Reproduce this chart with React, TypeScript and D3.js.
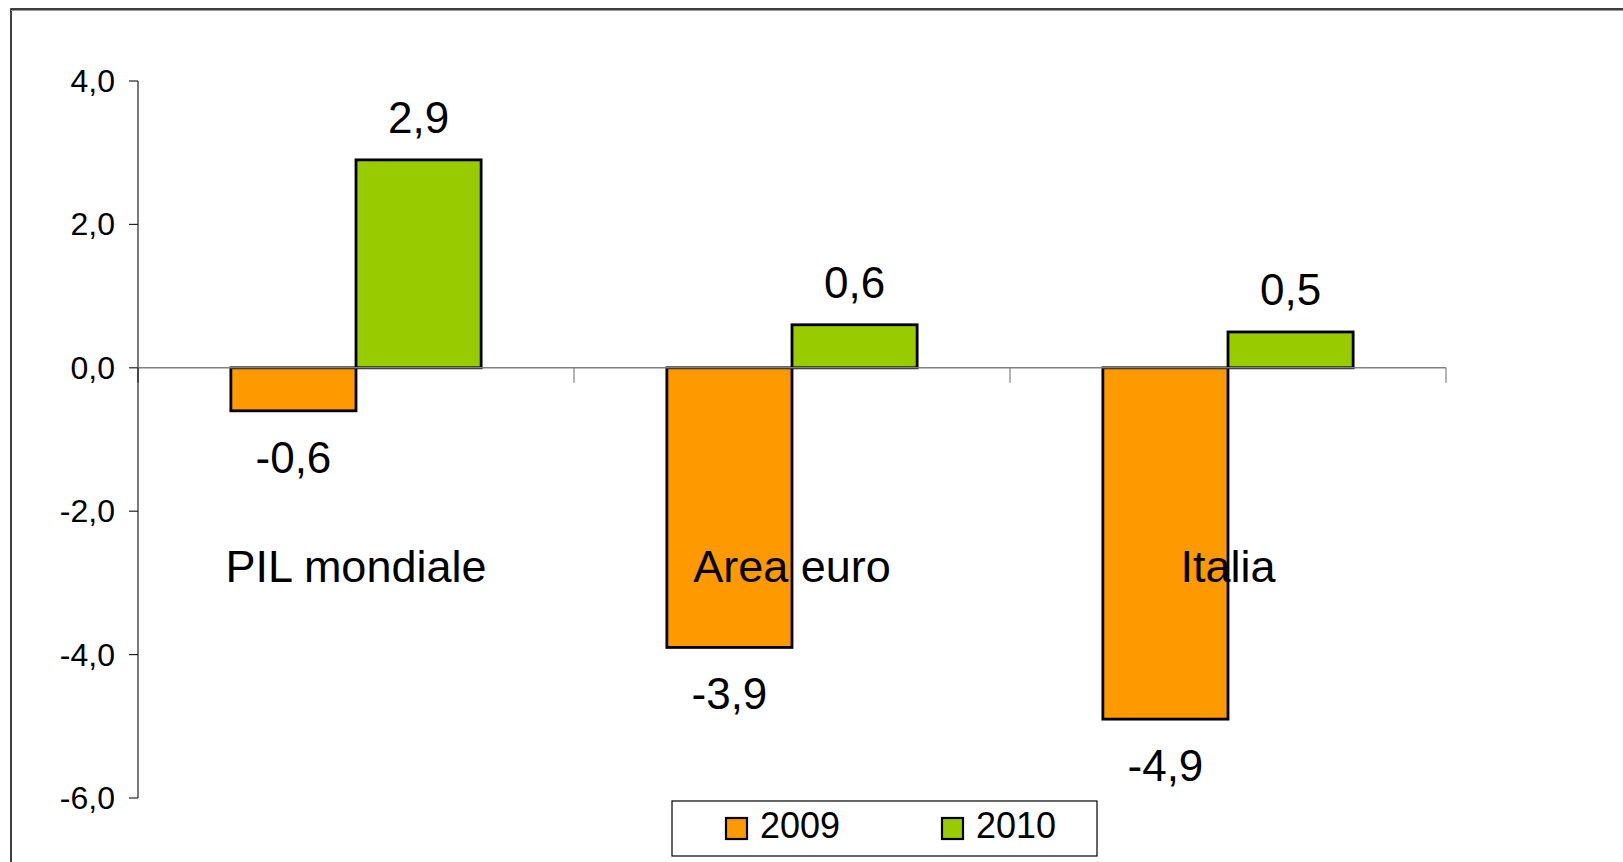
import React from "react";
import * as d3 from "d3";

const categories = ["PIL mondiale", "Area euro", "Italia"];
const series = ["2009", "2010"];
const values2009 = [-0.6, -3.9, -4.9];
const values2010 = [2.9, 0.6, 0.5];
const yTicks = [4, 2, 0, -2, -4, -6];
const colors = ["#FF9900", "#99CC00"];

const W = 1623;
const H = 862;
const FONT = "'Liberation Sans', Arial, Helvetica, sans-serif";

export default function App() {
  const y = d3.scaleLinear().domain([-6, 4]).range([798, 81]);
  const x = d3.scaleBand<string>().domain(categories).range([138, 1446]).padding(0);
  const bw = x.bandwidth();
  const groupW = bw * 0.574;
  const inner = d3
    .scaleBand<string>()
    .domain(series)
    .range([(bw - groupW) / 2, (bw + groupW) / 2])
    .padding(0);
  const fmt = (v: number) => d3.format(".1f")(v).replace(".", ",").replace("−", "-");
  const allValues = [values2009, values2010];
  const y0 = y(0);

  return (
    <svg
      width={W}
      height={H}
      style={{ position: "absolute", left: 0, top: 0, background: "#fff" }}
      fontFamily={FONT}
    >
      <rect x={0} y={0} width={W} height={H} fill="#fff" />
      {/* outer frame */}
      <rect x={11} y={9} width={W + 50} height={H + 50} fill="none" stroke="#000" strokeWidth={1.5} />
      <line x1={11} x2={W} y1={10.5} y2={10.5} stroke="#999" strokeWidth={1} />

      {/* y axis */}
      <line x1={138} x2={138} y1={y(4)} y2={y(-6)} stroke="#222" strokeWidth={1.2} />
      {yTicks.map((t) => (
        <g key={t}>
          <line x1={129} x2={138} y1={y(t)} y2={y(t)} stroke="#222" strokeWidth={1.2} />
          <text x={115} y={y(t) + 11} textAnchor="end" fontSize={32} fill="#000">
            {fmt(t)}
          </text>
        </g>
      ))}

      {/* bars */}
      {categories.map((c, i) =>
        series.map((s, j) => {
          const v = allValues[j][i];
          const bx = (x(c) as number) + (inner(s) as number);
          const top = Math.min(y(v), y0);
          const h = Math.abs(y(v) - y0);
          return (
            <rect
              key={c + s}
              x={bx}
              y={top}
              width={inner.bandwidth()}
              height={h}
              fill={colors[j]}
              stroke="#000"
              strokeWidth={2.8}
            />
          );
        })
      )}

      {/* zero line + category ticks */}
      <line x1={138} x2={1446} y1={y0} y2={y0} stroke="#808080" strokeWidth={1.5} />
      {[...categories.map((c) => x(c) as number), 1446].map((tx, i) => (
        <line key={i} x1={tx} x2={tx} y1={y0} y2={y0 + 15} stroke={i === 0 ? "#222" : "#808080"} strokeWidth={1.2} />
      ))}

      {/* data labels */}
      {categories.map((c, i) =>
        series.map((s, j) => {
          const v = allValues[j][i];
          const cx = (x(c) as number) + (inner(s) as number) + inner.bandwidth() / 2;
          const ly = v >= 0 ? y(v) - 27 : y(v) + 62;
          return (
            <text key={"l" + c + s} x={cx} y={ly} textAnchor="middle" fontSize={44} fill="#000">
              {fmt(v)}
            </text>
          );
        })
      )}

      {/* category labels */}
      {categories.map((c) => (
        <text
          key={"c" + c}
          x={(x(c) as number) + bw / 2}
          y={582}
          textAnchor="middle"
          fontSize={45}
          fill="#000"
        >
          {c}
        </text>
      ))}

      {/* legend */}
      <rect x={672} y={801} width={425} height={55} fill="#fff" stroke="#000" strokeWidth={1.2} />
      {series.map((s, j) => {
        const lx = j === 0 ? 726 : 942;
        return (
          <g key={"lg" + s}>
            <rect x={lx} y={818} width={21} height={21} fill={colors[j]} stroke="#000" strokeWidth={2.2} />
            <text x={lx + 34} y={838} fontSize={36} fill="#000">
              {s}
            </text>
          </g>
        );
      })}
    </svg>
  );
}
